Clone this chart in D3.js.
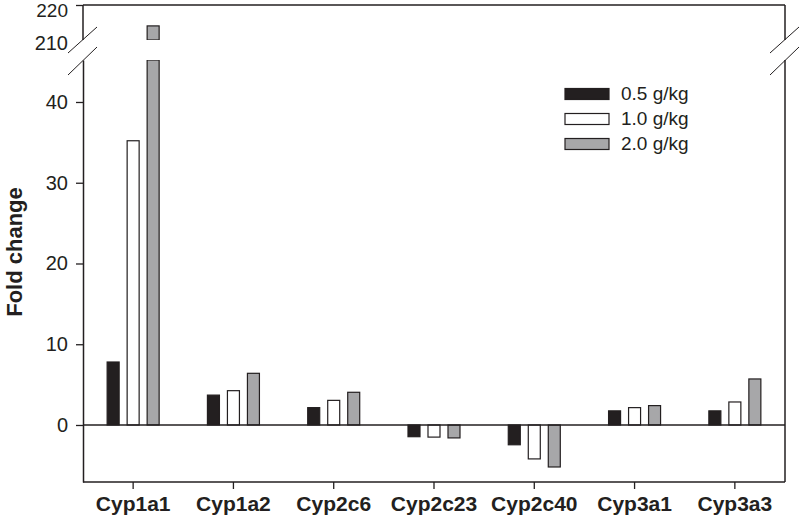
<!DOCTYPE html>
<html>
<head>
<meta charset="utf-8">
<script src="https://cdn.jsdelivr.net/npm/d3@7"></script>
<style>
  body { margin: 0; background: #fff; }
  svg { display: block; font-family: "Liberation Sans", Arial, Helvetica, sans-serif; }
</style>
</head>
<body>
<svg id="chart" width="800" height="517"></svg>
<script>
// data
const categories = ["Cyp1a1", "Cyp1a2", "Cyp2c6", "Cyp2c23", "Cyp2c40", "Cyp3a1", "Cyp3a3"];
const seriesNames = ["0.5 g/kg", "1.0 g/kg", "2.0 g/kg"];
const dose05 = [7.8, 3.7, 2.15, -1.45, -2.45, 1.75, 1.75];
const dose10 = [35.2, 4.25, 3.05, -1.5, -4.2, 2.15, 2.85];
const dose20 = [214.5, 6.4, 4.05, -1.6, -5.2, 2.4, 5.7];
const lowTicks = [0, 10, 20, 30, 40];
const highTicks = [210, 220];

const colors = ["#231f20", "#ffffff", "#a7a7a9"];
const ink = "#231f20";

const svg = d3.select("#chart");
const margin = { left: 83, right: 785, top: 5, bottom: 482 };
const breakTop = 40, breakBottom = 60;

// x scales
const x = d3.scaleBand().domain(categories).range([margin.left, margin.right]);
const xSub = d3.scaleBand().domain(seriesNames).range([-30, 30])
  .paddingInner(0.4).paddingOuter(0.2);

// broken y axis: lower part and upper part
const yLow = d3.scaleLinear().domain([-7.06, 45.2]).range([margin.bottom, breakBottom]);
const yHigh = d3.scaleLinear().domain([210, 220]).range([43, margin.top]);

// bars
const rows = [];
categories.forEach((c, i) => {
  [dose05, dose10, dose20].forEach((arr, s) => {
    rows.push({ cat: c, s: s, value: arr[i] });
  });
});

const g = svg.append("g");
rows.forEach(d => {
  const bx = x(d.cat) + x.bandwidth() / 2 + xSub(seriesNames[d.s]);
  const w = xSub.bandwidth();
  const style = sel => sel.attr("fill", colors[d.s]).attr("stroke", ink).attr("stroke-width", 1.2);
  if (d.value > yLow.domain()[1]) {
    // split bar across the break
    g.append("rect").call(style)
      .attr("x", bx).attr("width", w)
      .attr("y", breakBottom).attr("height", yLow(0) - breakBottom);
    g.append("rect").call(style)
      .attr("x", bx).attr("width", w)
      .attr("y", yHigh(d.value)).attr("height", breakTop - yHigh(d.value));
    g.append("rect").attr("x", bx - 2).attr("width", w + 4)
      .attr("y", breakTop).attr("height", breakBottom - breakTop).attr("fill", "#fff");
  } else {
    g.append("rect").call(style)
      .attr("x", bx).attr("width", w)
      .attr("y", yLow(Math.max(0, d.value)))
      .attr("height", Math.abs(yLow(d.value) - yLow(0)));
  }
});

// zero line
svg.append("line")
  .attr("x1", margin.left).attr("x2", margin.right)
  .attr("y1", yLow(0)).attr("y2", yLow(0))
  .attr("stroke", ink).attr("stroke-width", 1.3);

// frame: top, bottom, and right side (broken)
const frame = svg.append("g").attr("stroke", ink).attr("stroke-width", 1.5).attr("fill", "none");
frame.append("line").attr("x1", margin.left).attr("x2", margin.right).attr("y1", margin.top).attr("y2", margin.top);
frame.append("line").attr("x1", margin.left).attr("x2", margin.right).attr("y1", margin.bottom).attr("y2", margin.bottom);
frame.append("line").attr("x1", margin.right).attr("x2", margin.right).attr("y1", margin.top).attr("y2", breakTop);
frame.append("line").attr("x1", margin.right).attr("x2", margin.right).attr("y1", breakBottom).attr("y2", margin.bottom);

// left axis, lower part
const axLow = svg.append("g")
  .attr("transform", `translate(${margin.left},0)`)
  .call(d3.axisLeft(yLow).tickValues(lowTicks).tickSizeInner(7).tickSizeOuter(0).tickPadding(8));
// left axis, upper part
const axHigh = svg.append("g")
  .attr("transform", `translate(${margin.left},0)`)
  .call(d3.axisLeft(yHigh).tickValues(highTicks).tickSizeInner(7).tickSizeOuter(0).tickPadding(8));
axHigh.select(".domain").remove();
axHigh.selectAll(".tick line").filter(d => d === 210).remove();
svg.append("line")
  .attr("x1", margin.left).attr("x2", margin.left)
  .attr("y1", margin.top).attr("y2", breakTop)
  .attr("stroke", ink).attr("stroke-width", 1.5);

[axLow, axHigh].forEach(ax => {
  ax.select(".domain").attr("stroke", ink).attr("stroke-width", 1.5);
  ax.selectAll(".tick line").attr("stroke", ink).attr("stroke-width", 1.3);
  ax.selectAll(".tick text").attr("fill", ink)
    .style("font-size", "20px").style("font-family", "'Liberation Sans', Arial, sans-serif");
});
// top label sits against the edge, nudge it down so it stays inside
axHigh.selectAll(".tick text").filter(d => d === 220).attr("dy", "0.58em").style("font-size", "19px");

// break marks
const slashes = svg.append("g").attr("stroke", ink).attr("stroke-width", 1);
[margin.left, margin.right].forEach(cx => {
  slashes.append("line").attr("x1", cx - 15).attr("y1", breakTop + 13).attr("x2", cx + 14).attr("y2", breakTop - 13);
  slashes.append("line").attr("x1", cx - 15).attr("y1", breakBottom + 15).attr("x2", cx + 14).attr("y2", breakBottom - 13);
});

// bottom axis
const axX = svg.append("g")
  .attr("transform", `translate(0,${margin.bottom})`)
  .call(d3.axisBottom(x).tickSizeInner(7).tickSizeOuter(0).tickPadding(8));
axX.select(".domain").remove();
axX.selectAll(".tick line").attr("stroke", ink).attr("stroke-width", 1.3);
axX.selectAll(".tick text").attr("fill", ink)
  .attr("dy", "0.68em")
  .style("font-size", "21px").style("font-weight", "bold")
  .style("font-family", "'Liberation Sans', Arial, sans-serif");

// y title
svg.append("text")
  .attr("transform", "translate(22,252) rotate(-90)")
  .attr("text-anchor", "middle")
  .attr("fill", ink)
  .style("font-size", "22px").style("font-weight", "bold")
  .text("Fold change");

// legend
const legend = svg.append("g").attr("transform", "translate(565,99.5)");
seriesNames.forEach((name, i) => {
  const row = legend.append("g").attr("transform", `translate(0,${i * 25})`);
  row.append("rect").attr("x", 0).attr("y", -11).attr("width", 44).attr("height", 11)
    .attr("fill", colors[i]).attr("stroke", ink).attr("stroke-width", 1.2);
  row.append("text").attr("x", 56).attr("y", 0).attr("fill", ink)
    .style("font-size", "19px").text(name);
});
</script>
</body>
</html>
